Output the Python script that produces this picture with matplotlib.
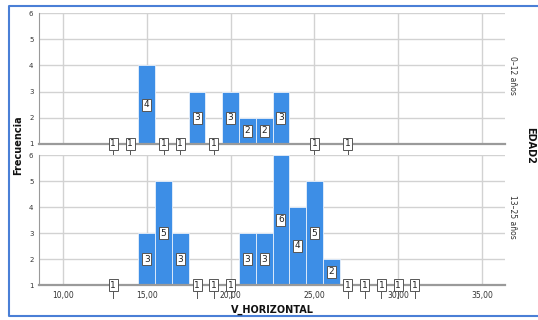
import matplotlib.pyplot as plt
from matplotlib.lines import Line2D

# V_HORIZONTAL counts per integer value, one panel per EDAD2 group
x_top = [13, 14, 15, 16, 17, 18, 19, 20, 21, 22, 23, 25, 27]
n_top = [1, 1, 4, 1, 1, 3, 1, 3, 2, 2, 3, 1, 1]
x_bot = [13, 15, 16, 17, 18, 19, 20, 21, 22, 23, 24, 25, 26, 27, 28, 29, 30, 31]
n_bot = [1, 3, 5, 3, 1, 1, 1, 3, 3, 6, 4, 5, 2, 1, 1, 1, 1, 1]
groups = ["0\u201312 a\u00f1os", "13\u201325 a\u00f1os"]
xticks = [10, 15, 20, 25, 30, 35]
xlabels = ["10,00", "15,00", "20,00", "25,00", "30,00", "35,00"]

bar_color = "#3d8ee6"
grid_color = "#d2d2d2"
axis_color = "#9a9a9a"
text_color = "#333333"

fig = plt.figure(figsize=(5.38, 3.2), dpi=100)
ax_top = fig.add_axes([39 / 538, 1 - 144 / 320, 466 / 538, 131 / 320])
ax_bot = fig.add_axes([39 / 538, 1 - 285 / 320, 466 / 538, 130 / 320])


def draw_panel(ax, xs, ns, show_x):
    ax.set_xlim(8.57, 36.37)
    ax.set_ylim(1, 6)
    ax.set_xticks(xticks)
    ax.set_yticks(range(1, 7))
    ax.grid(True, color=grid_color, lw=1.0)
    ax.set_axisbelow(True)
    for s in ["top", "right"]:
        ax.spines[s].set_visible(False)
    ax.spines["left"].set_color(axis_color)
    ax.spines["bottom"].set_color(axis_color)
    ax.spines["bottom"].set_linewidth(1.6)
    ax.tick_params(length=0, labelsize=5, colors=text_color, pad=4)
    if show_x:
        ax.set_xticklabels(xlabels, fontsize=5.5)
    else:
        ax.set_xticklabels([])

    heights = [n - 1 for n in ns]
    ax.bar(xs, heights, bottom=1, width=1, color=bar_color,
           edgecolor="#e8f0fb", lw=0.6, zorder=2)
    for x, n in zip(xs, ns):
        y = (1 + n) / 2
        if n == 1:
            ax.plot([x, x], [1, 0.5], color="#555555", lw=0.7,
                    clip_on=False, zorder=3)
        ax.text(x, y, str(n), ha="center", va="center", fontsize=6.5,
                color="#222222", zorder=4, clip_on=False,
                bbox=dict(boxstyle="square,pad=0.18", fc="white",
                          ec="#555555", lw=0.7))


draw_panel(ax_top, x_top, n_top, False)
draw_panel(ax_bot, x_bot, n_bot, True)

# facet labels and axis titles
fig.text(512 / 538, 1 - 75 / 320, groups[0], rotation=-90, ha="center",
         va="center", fontsize=5.5, color=text_color)
fig.text(512 / 538, 1 - 217 / 320, groups[1], rotation=-90, ha="center",
         va="center", fontsize=5.5, color=text_color)
fig.text(530 / 538, 1 - 145 / 320, "EDAD2", rotation=-90, ha="center",
         va="center", fontsize=7, fontweight="bold", color="#111111")
fig.text(18 / 538, 1 - 145 / 320, "Frecuencia", rotation=90, ha="center",
         va="center", fontsize=7, fontweight="bold", color="#111111")
fig.text(272 / 538, 1 - 310 / 320, "V_HORIZONTAL", ha="center",
         va="center", fontsize=7, fontweight="bold", color="#111111")

# outer frame: top, left and bottom edges, open on the right
fx0, fy0, fy1 = 9 / 538, 1 - 316 / 320, 1 - 6 / 320
fig.add_artist(Line2D([1.0, fx0, fx0, 1.0], [fy1, fy1, fy0, fy0],
                      transform=fig.transFigure, color="#4a7fd6", lw=1.5))

fig.savefig("out.png", dpi=100)
